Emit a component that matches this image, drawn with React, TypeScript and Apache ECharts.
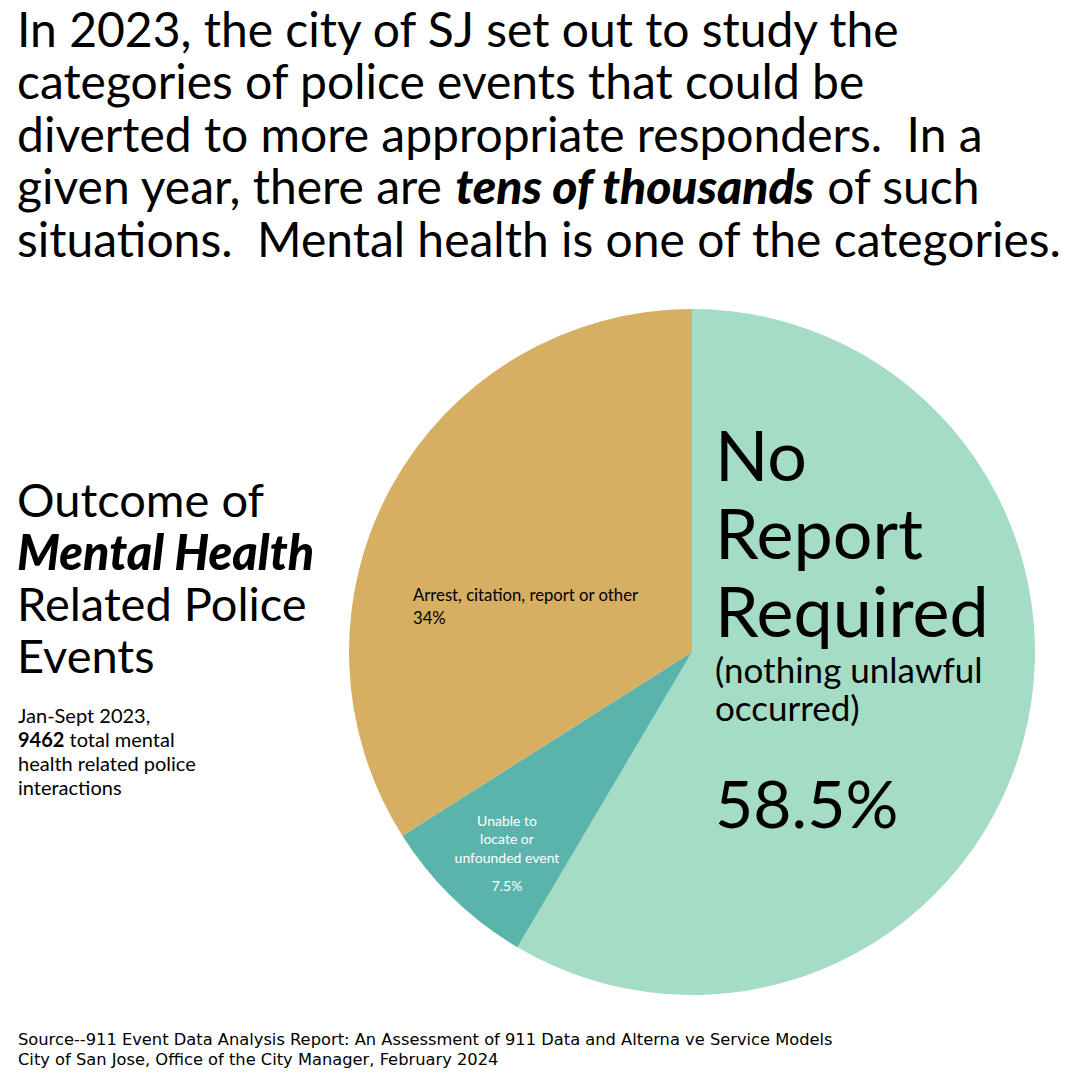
import React, { useEffect, useRef } from "react";
import * as echarts from "echarts";

const categories = [
  "No Report Required",
  "Unable to locate or unfounded event",
  "Arrest, citation, report or other",
];
const values = [58.5, 7.5, 34];
const sliceColors = ["#a5dcc6", "#5bb4ab", "#d6af63"];

const titleLines = [
  "In 2023, the city of SJ set out to study the",
  "categories of police events that could be",
  "diverted to more appropriate responders.  In a",
  "given year, there are {bi|tens of thousands} of such",
  "situations.  Mental health is one of the categories.",
];
const sideTitle = ["Outcome of", "{bi|Mental Health}", "Related Police", "Events"];
const sideNote = [
  "Jan-Sept 2023,",
  "{b|9462} total mental",
  "health related police",
  "interactions",
];
const sourceLines = [
  "Source--911 Event Data Analysis Report: An Assessment of 911 Data and Alterna ve Service Models",
  "City of San Jose, Office of the City Manager, February 2024",
];

const FONT = "Lato";

export default function App() {
  const ref = useRef<HTMLDivElement>(null);
  useEffect(() => {
    if (!ref.current) return;
    const chart = echarts.init(ref.current, null, { renderer: "svg" });
    const shadow = {
      textShadowColor: "#bdeeee",
      textShadowOffsetX: 2,
      textShadowOffsetY: 1,
      textShadowBlur: 0,
    };
    const labelPos: Record<string, any> = {
      [categories[0]]: { x: 715, y: 415, align: "left" },
      [categories[1]]: { x: 507, y: 811, align: "center" },
      [categories[2]]: { x: 413, y: 583, align: "left" },
    };
    const option: any = {
      animation: false,
      backgroundColor: "#ffffff",
      graphic: [
        {
          type: "text",
          left: 17,
          top: 2,
          style: {
            text: titleLines.join("\n"),
            fontFamily: FONT,
            fontSize: 48,
            lineHeight: 52.5,
            fill: "#000",
            ...shadow,
            rich: {
              bi: {
                fontFamily: FONT,
                fontSize: 48,
                lineHeight: 52.5,
                fontWeight: 900,
                fontStyle: "italic",
                ...shadow,
              },
            },
          },
        },
        {
          type: "text",
          left: 17,
          top: 473,
          style: {
            text: sideTitle.join("\n"),
            fontFamily: FONT,
            fontSize: 47,
            lineHeight: 52,
            fill: "#000",
            ...shadow,
            rich: {
              bi: {
                fontFamily: FONT,
                fontSize: 48.5,
                lineHeight: 52,
                fontWeight: 900,
                fontStyle: "italic",
                ...shadow,
              },
            },
          },
        },
        {
          type: "text",
          left: 18,
          top: 703,
          style: {
            text: sideNote.join("\n"),
            fontFamily: FONT,
            fontSize: 20,
            lineHeight: 24,
            fill: "#000",
            rich: {
              b: { fontFamily: FONT, fontSize: 20, lineHeight: 24, fontWeight: "bold" },
            },
          },
        },
        {
          type: "text",
          left: 18,
          top: 1030,
          style: {
            text: sourceLines.join("\n"),
            fontFamily: "DejaVu Sans",
            fontSize: 16.3,
            lineHeight: 19.5,
            fill: "#000",
          },
        },
      ],
      series: [
        {
          type: "pie",
          center: [692, 652],
          radius: [0, 343],
          startAngle: 90,
          clockwise: true,
          silent: true,
          itemStyle: { borderWidth: 0 },
          data: categories.map((name, i) => ({
            name,
            value: values[i],
            itemStyle: { color: sliceColors[i] },
          })),
          label: {
            show: true,
            position: "inside",
            formatter: (p: any) => {
              if (p.dataIndex === 0)
                return "{a|No}\n{a|Report}\n{a|Required}\n{b1|(nothing unlawful}\n{b2|occurred)}\n{c|" + p.value + "%}";
              if (p.dataIndex === 1)
                return "{w|Unable to}\n{w|locate or}\n{w|unfounded event}\n{wp|" + p.value + "%}";
              return "{k|" + p.name + "}\n{k|" + p.value + "%}";
            },
            rich: {
              a: { fontFamily: FONT, fontSize: 70, lineHeight: 78, color: "#000" },
              b1: { fontFamily: FONT, fontSize: 35, lineHeight: 40, color: "#000" },
              b2: { fontFamily: FONT, fontSize: 35, lineHeight: 36, color: "#000" },
              c: { fontFamily: FONT, fontSize: 66, lineHeight: 155, color: "#000" },
              w: { fontFamily: FONT, fontSize: 14, lineHeight: 18.5, color: "#fff", align: "center" },
              wp: { fontFamily: FONT, fontSize: 14, lineHeight: 38, color: "#fff", align: "center" },
              k: { fontFamily: FONT, fontSize: 16.7, lineHeight: 23, color: "#000" },
            },
          },
          labelLine: { show: false },
          labelLayout: (params: any) => {
            const pos = labelPos[categories[params.dataIndex]];
            return { x: pos.x, y: pos.y, align: pos.align, verticalAlign: "top" };
          },
        },
      ],
    };
    chart.setOption(option);
    return () => chart.dispose();
  }, []);
  return (
    <div
      ref={ref}
      style={{ position: "fixed", left: 0, top: 0, width: 1080, height: 1080 }}
    />
  );
}
